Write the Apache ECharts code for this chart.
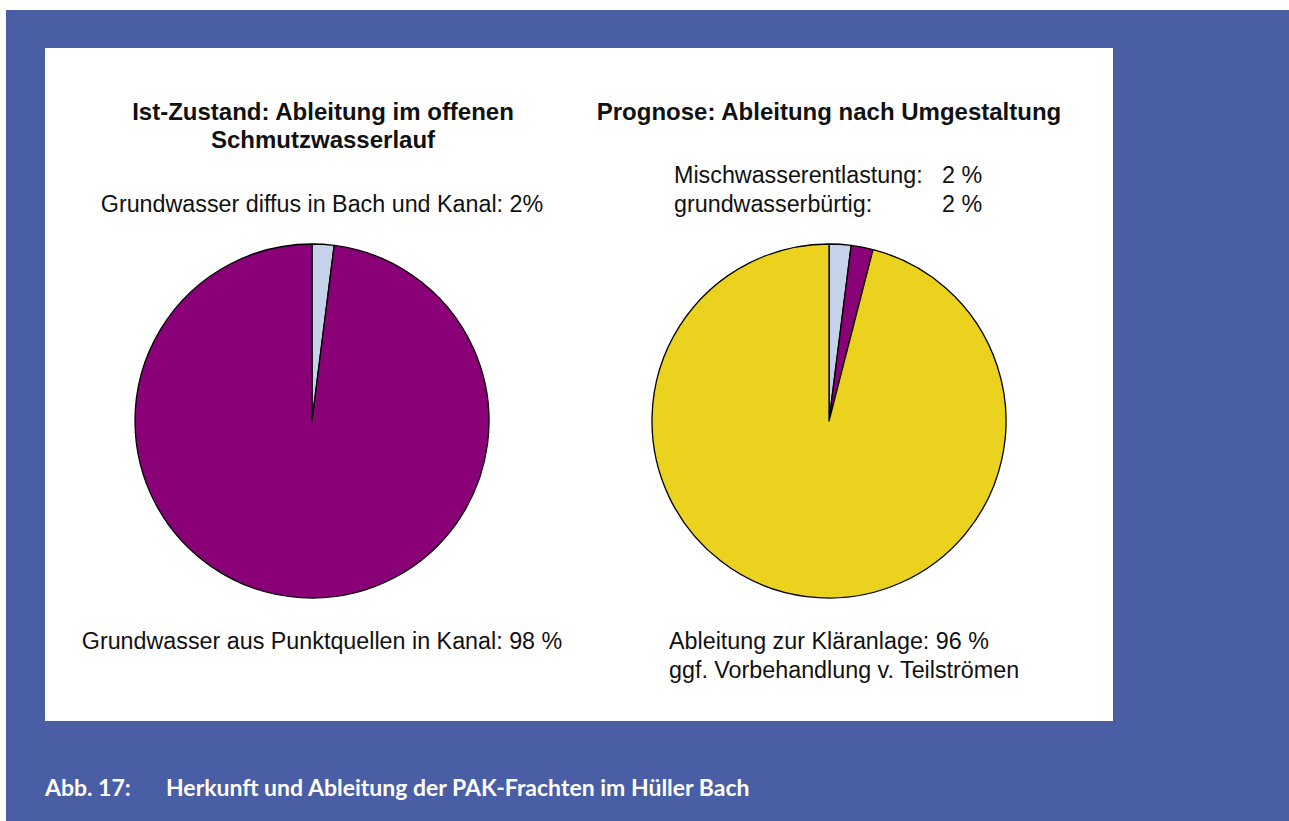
<!DOCTYPE html>
<html>
<head>
<meta charset="utf-8">
<script src="https://cdn.jsdelivr.net/npm/echarts@6/dist/echarts.min.js"></script>
<style>
html,body{margin:0;padding:0;background:#fff;}
#chart{width:1289px;height:821px;}
</style>
</head>
<body>
<div id="chart"></div>
<script>
// ---- data ----
var leftCategories = ['Grundwasser diffus in Bach und Kanal', 'Grundwasser aus Punktquellen in Kanal'];
var leftValues = [2, 98];
var rightCategories = ['grundwasserbürtig', 'Mischwasserentlastung', 'Ableitung zur Kläranlage'];
var rightValues = [2, 2, 96];
var leftTitle = ['Ist-Zustand: Ableitung im offenen', 'Schmutzwasserlauf'];
var rightTitle = ['Prognose: Ableitung nach Umgestaltung'];
var leftLabels = ['Grundwasser diffus in Bach und Kanal: 2%', 'Grundwasser aus Punktquellen in Kanal: 98 %'];
var rightTopLabels = [['Mischwasserentlastung:', '2 %'], ['grundwasserbürtig:', '2 %']];
var rightBottomLabels = ['Ableitung zur Kläranlage: 96 %', 'ggf. Vorbehandlung v. Teilströmen'];
var caption = ['Abb. 17:', 'Herkunft und Ableitung der PAK-Frachten im Hüller Bach'];

var colLightBlue = '#c5d2ea', colPurple = '#8a0077', colYellow = '#ebd21f';
var BLUE = '#4a5ea5';
var FONT = '"Liberation Sans", Arial, Helvetica, sans-serif';

var chart = echarts.init(document.getElementById('chart'), null, {renderer: 'svg'});

function txt(x, y, s, opts) {
  opts = opts || {};
  return {
    type: 'text', x: x, y: y, z: 10,
    style: {
      text: s, fill: opts.fill || '#111',
      font: (opts.weight || 'normal') + ' ' + (opts.size || 23.3) + 'px ' + (opts.family || FONT),
      textAlign: opts.align || 'left', textVerticalAlign: 'middle'
    }
  };
}

var CAPFONT = 'Lato, "Open Sans", sans-serif';
var graphics = [
  {type: 'rect', z: -10, shape: {x: 6, y: 10, width: 1283, height: 811}, style: {fill: BLUE}},
  {type: 'rect', z: -9, shape: {x: 45, y: 48, width: 1068, height: 673}, style: {fill: '#ffffff'}},
  txt(323, 111, leftTitle[0], {weight: 'bold', size: 24, align: 'center'}),
  txt(323, 139, leftTitle[1], {weight: 'bold', size: 24, align: 'center'}),
  txt(829, 111, rightTitle[0], {weight: 'bold', size: 24, align: 'center'}),
  txt(322, 204, leftLabels[0], {align: 'center'}),
  txt(322, 641, leftLabels[1], {align: 'center'}),
  txt(674, 175, rightTopLabels[0][0]),
  txt(942, 175, rightTopLabels[0][1]),
  txt(674, 204, rightTopLabels[1][0]),
  txt(942, 204, rightTopLabels[1][1]),
  txt(669, 641, rightBottomLabels[0]),
  txt(669, 670, rightBottomLabels[1]),
  txt(45, 787, caption[0], {weight: 'bold', size: 23, fill: '#ffffff', family: CAPFONT}),
  txt(166, 787, caption[1], {weight: 'bold', size: 23, fill: '#ffffff', family: CAPFONT})
];

var pieCommon = {
  type: 'pie', radius: 177, startAngle: 90, clockwise: true,
  label: {show: false}, labelLine: {show: false}, silent: true, animation: false,
  itemStyle: {borderColor: '#000', borderWidth: 1.3}
};

chart.setOption({
  backgroundColor: '#ffffff',
  animation: false,
  graphic: graphics,
  series: [
    Object.assign({}, pieCommon, {
      center: [312, 421],
      data: leftCategories.map(function (c, i) {
        return {name: c, value: leftValues[i], itemStyle: {color: [colLightBlue, colPurple][i]}};
      })
    }),
    Object.assign({}, pieCommon, {
      center: [829, 421],
      data: rightCategories.map(function (c, i) {
        return {name: c, value: rightValues[i], itemStyle: {color: [colLightBlue, colPurple, colYellow][i]}};
      })
    })
  ]
});
</script>
</body>
</html>
